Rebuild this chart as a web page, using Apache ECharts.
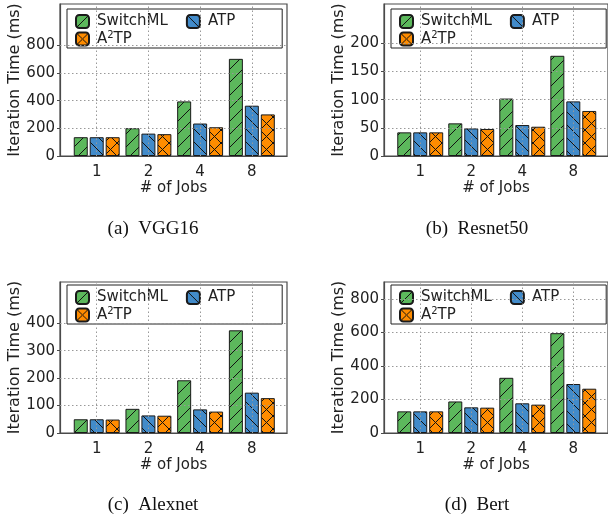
<!DOCTYPE html>
<html><head><meta charset="utf-8">
<script src="https://cdn.jsdelivr.net/npm/echarts@6/dist/echarts.min.js"></script>
<style>html,body{margin:0;padding:0;background:#fff}#c{width:608px;height:518px}</style>
</head><body><div id="c"></div>
<script>
// ---- data ----
const jobs = ['1', '2', '4', '8'];
const seriesNames = ['SwitchML', 'ATP', 'A2TP'];

const vggSwitchML = [136, 201, 395, 703];
const vggATP      = [136, 162, 235, 364];
const vggA2TP     = [136, 158, 208, 301];

const resnetSwitchML = [42, 58, 102, 178];
const resnetATP      = [42, 49, 55, 97];
const resnetA2TP     = [42, 48, 52, 80];

const alexnetSwitchML = [50, 88, 192, 374];
const alexnetATP      = [50, 64, 86, 147];
const alexnetA2TP     = [49, 63, 78, 127];

const bertSwitchML = [129, 188, 329, 595];
const bertATP      = [129, 153, 177, 292];
const bertA2TP     = [129, 151, 169, 264];

const vggTicks     = [0, 200, 400, 600, 800];
const resnetTicks  = [0, 50, 100, 150, 200];
const alexnetTicks = [0, 100, 200, 300, 400];
const bertTicks    = [0, 200, 400, 600, 800];

const yMaxes = [1100, 270, 550, 900];
const captions = ['(a)  VGG16', '(b)  Resnet50', '(c)  Alexnet', '(d)  Bert'];

const panels = [
  { values: [vggSwitchML, vggATP, vggA2TP], ticks: vggTicks },
  { values: [resnetSwitchML, resnetATP, resnetA2TP], ticks: resnetTicks },
  { values: [alexnetSwitchML, alexnetATP, alexnetA2TP], ticks: alexnetTicks },
  { values: [bertSwitchML, bertATP, bertA2TP], ticks: bertTicks }
];

// ---- layout ----
const layout = [
  { left: 60,  top: 4,   height: 152, legTop: 9,   capY: 229 },
  { left: 384, top: 4,   height: 152, legTop: 9,   capY: 229 },
  { left: 60,  top: 282, height: 151, legTop: 285, capY: 505 },
  { left: 384, top: 282, height: 151, legTop: 285, capY: 505 }
];
const GW = 227;

function hatch(bg, kind) {
  const s = 13;
  const c = document.createElement('canvas');
  c.width = s; c.height = s;
  const g = c.getContext('2d');
  g.fillStyle = bg; g.fillRect(0, 0, s, s);
  g.strokeStyle = '#111'; g.lineWidth = 1;
  g.beginPath();
  for (const o of [-s, 0, s]) {
    if (kind === '/' || kind === 'x') { g.moveTo(o, s); g.lineTo(o + s, 0); }
    if (kind === '\\' || kind === 'x') { g.moveTo(o, 0); g.lineTo(o + s, s); }
  }
  g.stroke();
  return c;
}
const fills = [
  { image: hatch('#5cb85c', '/'), repeat: 'repeat' },
  { image: hatch('#428bca', '\\'), repeat: 'repeat' },
  { image: hatch('#ff8c00', 'x'), repeat: 'repeat' }
];

const FONT = 'DejaVu Sans';
const TXT = '#222';
const AX = '#4a4a4a';
const GRIDLINE = { color: '#999', type: [1.5, 2.5], width: 1 };

const grid = [], xAxis = [], yAxis = [], series = [], legend = [], graphic = [];
panels.forEach((p, pi) => {
  const L = layout[pi];
  const xPos = jobs.map((j, i) => i);
  grid.push({ left: L.left, top: L.top, width: GW, height: L.height, show: true,
    borderColor: AX, borderWidth: 1.2, backgroundColor: 'transparent' });
  xAxis.push({
    type: 'value', gridIndex: pi, min: -0.71, max: 3.68,
    name: '# of Jobs', nameLocation: 'middle', nameGap: 24,
    nameTextStyle: { fontFamily: FONT, fontSize: 15, color: TXT },
    axisLine: { show: true, onZero: false, lineStyle: { color: AX, width: 1.2 } },
    axisTick: { show: false },
    axisLabel: { customValues: xPos, formatter: v => jobs[Math.round(v)], margin: 9,
      fontFamily: FONT, fontSize: 15, color: TXT },
    splitLine: { show: false }
  });
  yAxis.push({
    type: 'value', gridIndex: pi, min: 0, max: yMaxes[pi],
    name: 'Iteration Time (ms)', nameLocation: 'middle', nameGap: 37,
    nameTextStyle: { fontFamily: FONT, fontSize: 16, color: TXT },
    axisLine: { show: true, onZero: false, lineStyle: { color: AX, width: 1.2 } },
    axisTick: { show: true, length: 3, inside: false, customValues: p.ticks, lineStyle: { color: AX } },
    axisLabel: { customValues: p.ticks, margin: 5, fontFamily: FONT, fontSize: 15, color: TXT },
    splitLine: { show: false }
  });
  // dotted grid lines at the x categories and the y ticks, behind the bars
  series.push({
    type: 'line', xAxisIndex: pi, yAxisIndex: pi, data: [], z: 1, silent: true,
    markLine: {
      symbol: 'none', silent: true, animation: false, label: { show: false },
      lineStyle: GRIDLINE, emphasis: { disabled: true },
      data: xPos.map(i => ({ xAxis: i })).concat(p.ticks.filter(t => t > 0).map(t => ({ yAxis: t })))
    }
  });
  p.values.forEach((vals, k) => {
    series.push({
      type: 'bar', name: seriesNames[k], xAxisIndex: pi, yAxisIndex: pi,
      data: vals.map((v, i) => [xPos[i], v]),
      barWidth: 14, barGap: '14%', z: 2,
      itemStyle: { color: fills[k], borderColor: '#1a1a1a', borderWidth: 1 },
      emphasis: { disabled: true }, animation: false
    });
  });
  const legText = {
    fontFamily: FONT, fontSize: 15, color: TXT, padding: [0, 0, 0, 3],
    rich: {
      b: { fontFamily: FONT, fontSize: 15, color: TXT, lineHeight: 18 },
      sup: { fontFamily: FONT, fontSize: 10, color: TXT, lineHeight: 10, verticalAlign: 'top' }
    }
  };
  legend.push({
    left: L.left + 7, top: L.legTop, width: 200, orient: 'horizontal',
    data: ['SwitchML', 'ATP'], icon: 'roundRect', itemWidth: 13, itemHeight: 13, itemGap: 18,
    padding: [5, 47, 19, 8], backgroundColor: '#fff', borderColor: '#222', borderWidth: 1,
    borderRadius: 0, textStyle: legText, selectedMode: false
  });
  legend.push({
    left: L.left + 15, top: L.legTop + 21, orient: 'horizontal',
    data: ['A2TP'], icon: 'roundRect', itemWidth: 13, itemHeight: 13, padding: 0,
    formatter: n => n === 'A2TP' ? '{b|A}{sup|2}{b|TP}' : n,
    textStyle: legText, selectedMode: false
  });
  graphic.push({
    type: 'text', x: L.left + 93, y: L.capY,
    style: { text: captions[pi], align: 'center', verticalAlign: 'middle',
      fontFamily: 'Liberation Serif', fontSize: 19, fill: '#111' }
  });
});

const chart = echarts.init(document.getElementById('c'), null, { renderer: 'canvas' });
chart.setOption({ backgroundColor: '#fff', animation: false, grid, xAxis, yAxis, series, legend, graphic });
</script></body></html>
